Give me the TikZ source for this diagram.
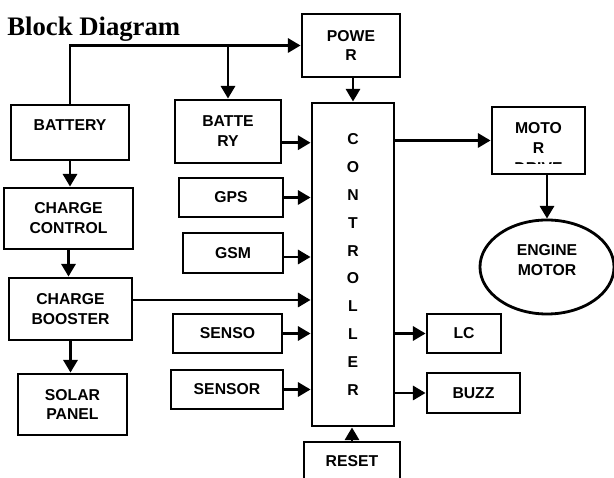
\documentclass[tikz,border=0pt]{standalone}
\usepackage{fontspec}
\setmainfont{Liberation Serif}
\setsansfont{Liberation Sans}
\usetikzlibrary{arrows.meta,shapes.geometric}

\newcommand{\blockfont}{\sffamily\bfseries\fontsize{11.2}{14.2}\selectfont}

\begin{document}
\begin{tikzpicture}[
  x=0.025cm, y=-0.025cm,
  unit/.style = {
    rectangle, draw=black, line width=2pt, inner sep=0pt,
    align=center, font=\blockfont,
  },
  arrow/.style = {-{Triangle[length=9pt,width=10pt]}, line width=2pt, draw=black},
]
  \useasboundingbox (0,0) rectangle (614,478);
  \clip (0,0) rectangle (614,478);

  \node[anchor=base west, inner sep=0pt, font=\bfseries\fontsize{19}{22}\selectfont] (title) at (7,36) {Block Diagram};

  % charging chain on the left
  \node[unit, minimum width=2.95cm, minimum height=1.375cm, text height=8pt, text depth=11pt] (battL) at (70,132.5) {BATTERY};
  \node[unit, minimum width=3.225cm, minimum height=1.525cm] (cc) at (68.5,218.5) {CHARGE\\CONTROL};
  \node[unit, minimum width=3.075cm, minimum height=1.55cm] (cb) at (70.5,309) {CHARGE\\BOOSTER};
  \node[unit, minimum width=2.725cm, minimum height=1.525cm] (solar) at (72.5,404.5) {SOLAR\\PANEL};

  % inputs
  \node[unit, minimum width=2.45cm, minimum height=1.575cm] (power) at (351,45.5) {POWE\\R};
  \node[unit, minimum width=2.65cm, minimum height=1.575cm] (batt) at (228,131.5) {BATTE\\RY};
  \node[unit, minimum width=2.6cm, minimum height=0.975cm] (gps) at (231,197.5) {GPS};
  \node[unit, minimum width=2.5cm, minimum height=1cm] (gsm) at (233,253) {GSM};
  \node[unit, minimum width=2.725cm, minimum height=0.975cm] (senso) at (227.5,333.5) {SENSO};
  \node[unit, minimum width=2.8cm, minimum height=0.975cm] (sensor) at (227,389.5) {SENSOR};
  \node[unit, minimum width=2.4cm, minimum height=1.575cm] (reset) at (352,473.5) {RESET\\\strut};

  \node[unit, minimum width=2.05cm, minimum height=8.075cm,
    font=\sffamily\bfseries\fontsize{11.2}{19.8}\selectfont] (ctrl) at (353,264.5)
    {C\\O\\N\\T\\R\\O\\L\\L\\E\\R};

  % outputs
  \node[unit, minimum width=2.325cm, minimum height=1.675cm,
    path picture={
      \clip (path picture bounding box.north west) rectangle ([yshift=0.26cm]path picture bounding box.south east);
      \node[draw=none, fill=none, inner sep=0pt, align=center, font=\blockfont] (motortext)
        at ([yshift=-0.19cm]path picture bounding box.center) {MOTO\\R\\DRIVE};
    }] (motor) at (538.5,140.5) {};
  \node[unit, ellipse, minimum width=3.35cm, minimum height=2.35cm] (engine) at (547,267) {ENGINE\\MOTOR\\[-9pt]\strut};
  \node[unit, minimum width=1.85cm, minimum height=0.975cm] (lc) at (464,333.5) {LC};
  \node[unit, minimum width=2.325cm, minimum height=1cm] (buzz) at (473.5,393) {BUZZ};

  \draw[arrow] (battL.north) |- (power.west);
  \draw[arrow] (batt.north |- power.west) -- (batt.north);
  \draw[arrow] (ctrl.north |- power.south) -- (ctrl.north);
  \draw[arrow] (battL.south) -- (battL.south |- cc.north);
  \draw[arrow] (cc.south) -- (cc.south |- cb.north);
  \draw[arrow] (cb.south) -- (cb.south |- solar.north);

  \draw[arrow] ([yshift=-0.28cm]batt.east) coordinate (b1) -- (b1 -| ctrl.west);
  \draw[arrow] (gps.east) -- (gps.east -| ctrl.west);
  \draw[arrow] ([yshift=-0.1cm]gsm.east) coordinate (g1) -- (g1 -| ctrl.west);
  \draw[arrow] ([yshift=0.225cm]cb.east) coordinate (c1) -- (c1 -| ctrl.west);
  \draw[arrow] (senso.east) -- (senso.east -| ctrl.west);
  \draw[arrow] (sensor.east) -- (sensor.east -| ctrl.west);
  \draw[arrow] (reset.north) -- (reset.north |- ctrl.south);

  \draw[arrow] (ctrl.east |- motor.west) -- (motor.west);
  \draw[arrow] (ctrl.east |- lc.west) -- (lc.west);
  \draw[arrow] (ctrl.east |- buzz.west) -- (buzz.west);
  \draw[arrow] (engine.north |- motor.south) -- (engine.north);
\end{tikzpicture}
\end{document}
